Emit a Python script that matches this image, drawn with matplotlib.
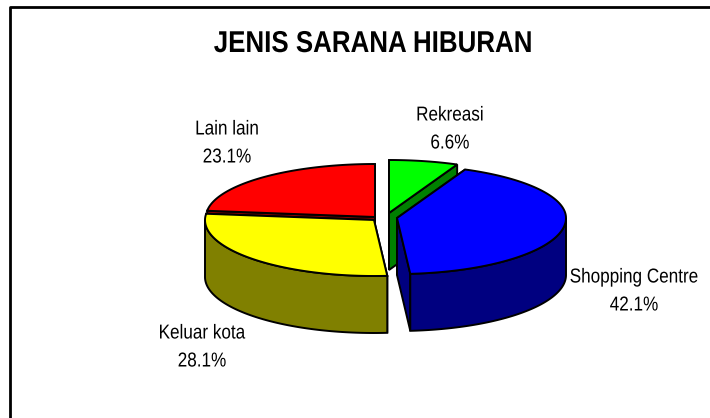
import numpy as np
import matplotlib
matplotlib.use("Agg")
import matplotlib.pyplot as plt
from matplotlib.patheffects import AbstractPathEffect
from matplotlib.transforms import Affine2D

labels = ["Rekreasi", "Shopping Centre", "Keluar kota", "Lain lain"]
values = [6.6, 42.1, 28.1, 23.1]
top_colors = ["#00ff00", "#0000ff", "#ffff00", "#ff0000"]
side_colors = ["#008000", "#000080", "#808000", "#800000"]

plt.rcParams["font.family"] = ["Liberation Sans"]


# The reference text is narrower than any installed font, so squeeze it sideways
class Squeeze(AbstractPathEffect):
    def __init__(self, x0, factor):
        super().__init__()
        self.x0 = x0
        self.factor = factor

    def draw_path(self, renderer, gc, tpath, affine, rgbFace=None):
        squeeze = Affine2D().translate(-self.x0, 0).scale(self.factor, 1).translate(self.x0, 0)
        renderer.draw_path(gc, tpath, affine + squeeze, rgbFace)


fig = plt.figure(figsize=(7.1, 4.18), dpi=100)
ax = fig.add_axes([0, 0, 1, 1])
ax.set_xlim(0, 710)
ax.set_ylim(418, 0)
ax.axis("off")

# Chart frame, only the left and top sides are inside the picture
ax.plot([10, 10, 710], [418, 7, 7], color="black", lw=2, clip_on=False)

title = ax.text(373, 44, "JENIS SARANA HIBURAN", ha="center", va="center",
                fontsize=21.7, fontweight="bold")
title.set_path_effects([Squeeze(373, 0.86)])

# Projected pie shape
cx, cy = 385, 217
rx = 169
ry_back, ry_front = 53, 56
depth = 57
# How far each slice is pulled out from the centre
pull = [(4, -4), (12, 1), (-11, 3), (-10, 0)]
lw = 1.4


def ellipse(a, ox, oy):
    c = np.cos(a)
    return ox + rx * np.sin(a), oy - np.where(c > 0, ry_back, ry_front) * c


total = sum(values)
edges = np.radians(np.cumsum([0] + values) / total * 360)

# Back slices first so the front ones cover them
for i in [0, 3, 1, 2]:
    a0, a1 = edges[i], edges[i + 1]
    ox, oy = cx + pull[i][0], cy + pull[i][1]
    # Cut faces at the two straight edges
    for a in (a0, a1):
        ex, ey = ellipse(a, ox, oy)
        ax.fill([ox, ex, ex, ox], [oy, ey, ey + depth, oy + depth],
                facecolor=side_colors[i], edgecolor="black", lw=lw)
    # Outer wall, only the part that faces the viewer
    w0, w1 = max(a0, np.pi / 2), min(a1, 3 * np.pi / 2)
    if w1 > w0:
        t = np.linspace(w0, w1, 80)
        wx, wy = ellipse(t, ox, oy)
        ax.fill(np.r_[wx, wx[::-1]], np.r_[wy, wy[::-1] + depth],
                facecolor=side_colors[i], edgecolor="black", lw=lw)
    # Top of the slice
    t = np.linspace(a0, a1, 120)
    tx, ty = ellipse(t, ox, oy)
    ax.fill(np.r_[ox, tx], np.r_[oy, ty],
            facecolor=top_colors[i], edgecolor="black", lw=lw)

# Data labels
label_pos = [(450, 129), (634, 291), (202, 347), (227, 143)]
for name, val, (lx, ly) in zip(labels, values, label_pos):
    txt = ax.text(lx, ly, f"{name}\n{val:.1f}%", ha="center", va="center",
                  fontsize=14.5, linespacing=1.6)
    txt.set_path_effects([Squeeze(lx, 0.85)])

fig.savefig("out.png", dpi=100)
